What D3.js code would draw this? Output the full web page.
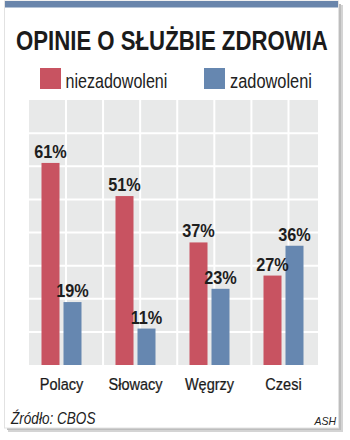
<!DOCTYPE html>
<html>
<head>
<meta charset="utf-8">
<script src="https://cdn.jsdelivr.net/npm/d3@7"></script>
<style>
  html, body { margin: 0; padding: 0; background: #ffffff; }
  svg { display: block; }
  text { font-family: "Liberation Sans", Arial, Helvetica, sans-serif; }
</style>
</head>
<body>
<svg id="chart" width="350" height="440"></svg>
<script>
// Survey data: opinions on the health service
const categories = ["Polacy", "Słowacy", "Węgrzy", "Czesi"];
const seriesNames = ["niezadowoleni", "zadowoleni"];
const niezadowoleni = [61, 51, 37, 27];
const zadowoleni = [19, 11, 23, 36];
const gridTicks = [10, 20, 30, 40, 50, 60, 70];

const title = "OPINIE O SŁUŻBIE ZDROWIA";
const source = "Źródło: CBOS";
const author = "ASH";

const colors = { niezadowoleni: "#c85361", zadowoleni: "#6687b0" };

const rows = categories.map((c, i) => ({
  category: c,
  values: [
    { key: "niezadowoleni", value: niezadowoleni[i] },
    { key: "zadowoleni", value: zadowoleni[i] }
  ]
}));

const svg = d3.select("#chart");

// Narrow a text horizontally around its anchor point to mimic a condensed face.
// Either a fixed factor k or a target width may be given.
function condense(sel, k, targetWidth) {
  sel.each(function () {
    const t = d3.select(this);
    const x = +t.attr("x") || 0, yy = +t.attr("y") || 0;
    const w = this.getComputedTextLength();
    const s = targetWidth ? targetWidth / w : k;
    t.attr("x", 0).attr("y", 0)
      .attr("transform", `translate(${x},${yy}) scale(${s},1)`);
  });
  return sel;
}

// Card with drop shadow and top accent strip
svg.append("rect").attr("x", 8).attr("y", 5).attr("width", 335).attr("height", 427).attr("fill", "#d4d4d4");
svg.append("rect").attr("x", 7).attr("y", 4).attr("width", 334).attr("height", 426).attr("fill", "#bdbdbd");
svg.append("rect").attr("x", 4.5).attr("y", 1).attr("width", 334).attr("height", 427)
  .attr("fill", "#ffffff").attr("stroke", "#e2e2e2").attr("stroke-width", 1);
svg.append("rect").attr("x", 5).attr("y", 1).attr("width", 333).attr("height", 6.5).attr("fill", "#6985ab");

// Title
const titleText = svg.append("text").attr("x", 16).attr("y", 49.5)
  .attr("font-size", 28).attr("font-weight", "bold").attr("fill", "#1b1b1b")
  .text(title);
condense(titleText, null, 312);

// Legend
const legendPos = [{ x: 40, tx: 65.5, w: 102 }, { x: 204, tx: 230, w: 82 }];
const legend = svg.append("g").selectAll("g").data(seriesNames).join("g");
legend.append("rect")
  .attr("x", (d, i) => legendPos[i].x).attr("y", 68).attr("width", 21).attr("height", 21)
  .attr("fill", d => colors[d]);
legend.append("text")
  .attr("x", (d, i) => legendPos[i].tx).attr("y", 87.5)
  .attr("font-size", 21).attr("fill", "#222")
  .text(d => d)
  .each(function (d, i) { condense(d3.select(this), null, legendPos[i].w); });

// Scales
const plot = { left: 29, right: 318, top: 100, bottom: 365 };
const y = d3.scaleLinear().domain([0, 80]).range([plot.bottom, plot.top]);
const x0 = d3.scaleBand().domain(categories).range([24.5, 320.5]).padding(0);
const x1 = d3.scaleBand().domain(seriesNames).range([17, 57]).paddingInner(4 / 22).paddingOuter(0);

// Plot background with white grid
svg.append("rect")
  .attr("x", plot.left).attr("y", plot.top)
  .attr("width", plot.right - plot.left).attr("height", plot.bottom - plot.top)
  .attr("fill", "#e8e9e9");
const cols = d3.scaleLinear().domain([0, 1]).range([66, 103.08]);
svg.append("g").selectAll("line").data(d3.range(7)).join("line")
  .attr("x1", d => cols(d)).attr("x2", d => cols(d))
  .attr("y1", plot.top).attr("y2", plot.bottom)
  .attr("stroke", "#ffffff").attr("stroke-width", 2);
svg.append("g").selectAll("line").data(gridTicks).join("line")
  .attr("x1", plot.left).attr("x2", plot.right)
  .attr("y1", d => y(d)).attr("y2", d => y(d))
  .attr("stroke", "#ffffff").attr("stroke-width", 2);

// Bars
const groups = svg.append("g").selectAll("g").data(rows).join("g")
  .attr("transform", d => `translate(${x0(d.category)},0)`);
groups.selectAll("rect").data(d => d.values).join("rect")
  .attr("x", d => x1(d.key)).attr("width", x1.bandwidth())
  .attr("y", d => y(d.value)).attr("height", d => y(0) - y(d.value))
  .attr("fill", d => colors[d.key]);

// Value labels
const labels = groups.selectAll("text").data(d => d.values).join("text")
  .attr("x", d => x1(d.key) + x1.bandwidth() / 2)
  .attr("y", d => y(d.value) - 5)
  .attr("text-anchor", "middle")
  .attr("font-size", 18.5).attr("font-weight", "bold").attr("fill", "#1e1e1e")
  .text(d => d.value + "%");
condense(labels, 0.88);

// Category axis labels
const axis = svg.append("g").attr("transform", `translate(0,${plot.bottom})`)
  .call(d3.axisBottom(x0).tickSize(0).tickPadding(0));
axis.select(".domain").remove();
axis.selectAll("text")
  .attr("y", 25).attr("dy", 0)
  .attr("font-size", 16.5).attr("fill", "#1a1a1a")
  .attr("stroke", "#1a1a1a").attr("stroke-width", 0.25)
  .style("font-family", "\"Liberation Sans\", Arial, sans-serif");
condense(axis.selectAll("text"), 0.88);

// Source and author
const src = svg.append("text").attr("x", 11).attr("y", 424)
  .attr("font-size", 16).attr("font-style", "italic").attr("fill", "#222")
  .text(source);
condense(src, null, 84.5);
svg.append("text").attr("x", 336).attr("y", 424.5).attr("text-anchor", "end")
  .attr("font-size", 10.5).attr("font-style", "italic").attr("fill", "#222")
  .text(author);
</script>
</body>
</html>
